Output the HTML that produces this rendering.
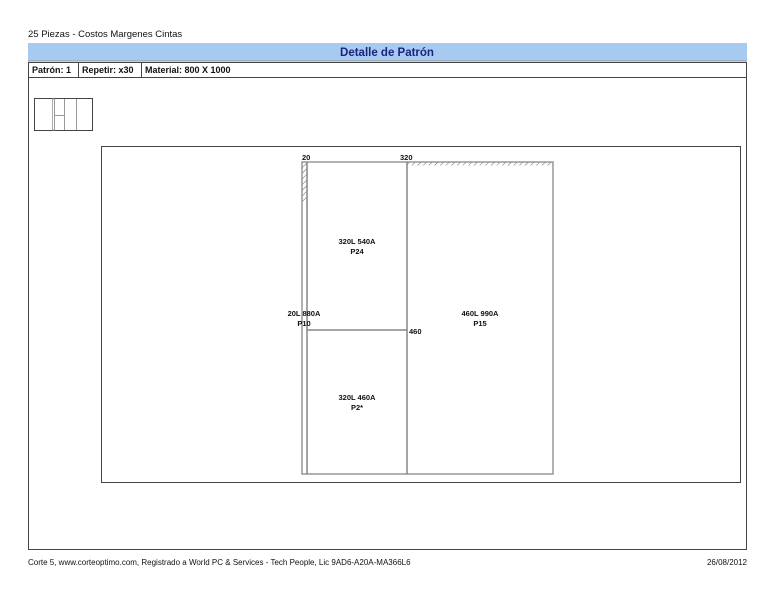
<!DOCTYPE html>
<html><head><meta charset="utf-8"><style>
html,body{margin:0;padding:0;background:#fff;}
svg{display:block;}
text{font-family:"Liberation Sans",Arial,sans-serif;}
</style></head><body>
<svg width="776" height="600" viewBox="0 0 776 600" xmlns="http://www.w3.org/2000/svg">
<defs>
<pattern id="h" width="4" height="4" patternUnits="userSpaceOnUse" patternTransform="rotate(45)">
<line x1="0" y1="0" x2="0" y2="4" stroke="#666" stroke-width="1"/>
</pattern>
</defs>
<text x="28" y="37" font-size="9.5" fill="#111">25 Piezas - Costos Margenes Cintas</text>
<rect x="28" y="43" width="719" height="18" fill="#a6caf0"/>
<line x1="28" y1="61" x2="747" y2="61" stroke="#999" stroke-width="1"/>
<text x="387" y="56" font-size="11.5" font-weight="bold" fill="#1a237e" text-anchor="middle">Detalle de Patrón</text>
<rect x="28.5" y="62.5" width="718" height="487" fill="none" stroke="#444" stroke-width="1"/>
<line x1="28" y1="77.5" x2="747" y2="77.5" stroke="#444"/>
<line x1="78.5" y1="62" x2="78.5" y2="77" stroke="#444"/>
<line x1="141.5" y1="62" x2="141.5" y2="77" stroke="#444"/>
<text x="32" y="73" font-size="9" font-weight="bold" fill="#111">Patrón: 1</text>
<text x="82" y="73" font-size="9" font-weight="bold" fill="#111">Repetir: x30</text>
<text x="145" y="73" font-size="9" font-weight="bold" fill="#111">Material: 800 X 1000</text>
<rect x="34.5" y="98.5" width="58" height="32" fill="none" stroke="#444"/>
<rect x="52.5" y="99" width="2" height="31" fill="none" stroke="#999" stroke-width="0.8"/>
<line x1="54.5" y1="99" x2="54.5" y2="130" stroke="#999"/>
<line x1="64.5" y1="99" x2="64.5" y2="130" stroke="#999"/>
<line x1="76.5" y1="99" x2="76.5" y2="130" stroke="#999"/>
<line x1="54" y1="115.5" x2="64" y2="115.5" stroke="#999"/>
<rect x="101.5" y="146.5" width="639" height="336" fill="none" stroke="#444"/>
<rect x="302" y="163" width="5" height="40" fill="url(#h)"/>
<rect x="407" y="162" width="146" height="3.5" fill="url(#h)"/>
<g fill="none" stroke="#888" stroke-width="1.3">
<rect x="302" y="162" width="5" height="312"/>
<rect x="307" y="162" width="100" height="168"/>
<rect x="307" y="330" width="100" height="144"/>
<rect x="407" y="162" width="146" height="312"/>
</g>
<g font-size="7.5" font-weight="bold" fill="#111">
<text x="302" y="160">20</text>
<text x="400" y="160">320</text>
<text x="409" y="334">460</text>
<text x="357" y="244" text-anchor="middle">320L 540A</text>
<text x="357" y="254" text-anchor="middle">P24</text>
<text x="304" y="316" text-anchor="middle">20L 880A</text>
<text x="304" y="326" text-anchor="middle">P10</text>
<text x="480" y="316" text-anchor="middle">460L 990A</text>
<text x="480" y="326" text-anchor="middle">P15</text>
<text x="357" y="400" text-anchor="middle">320L 460A</text>
<text x="357" y="410" text-anchor="middle">P2*</text>
</g>
<text x="28" y="565" font-size="8" fill="#111">Corte 5, www.corteoptimo.com, Registrado a World PC &amp; Services - Tech People, Lic 9AD6-A20A-MA366L6</text>
<text x="747" y="565" font-size="8" fill="#111" text-anchor="end">26/08/2012</text>
</svg>
</body></html>
